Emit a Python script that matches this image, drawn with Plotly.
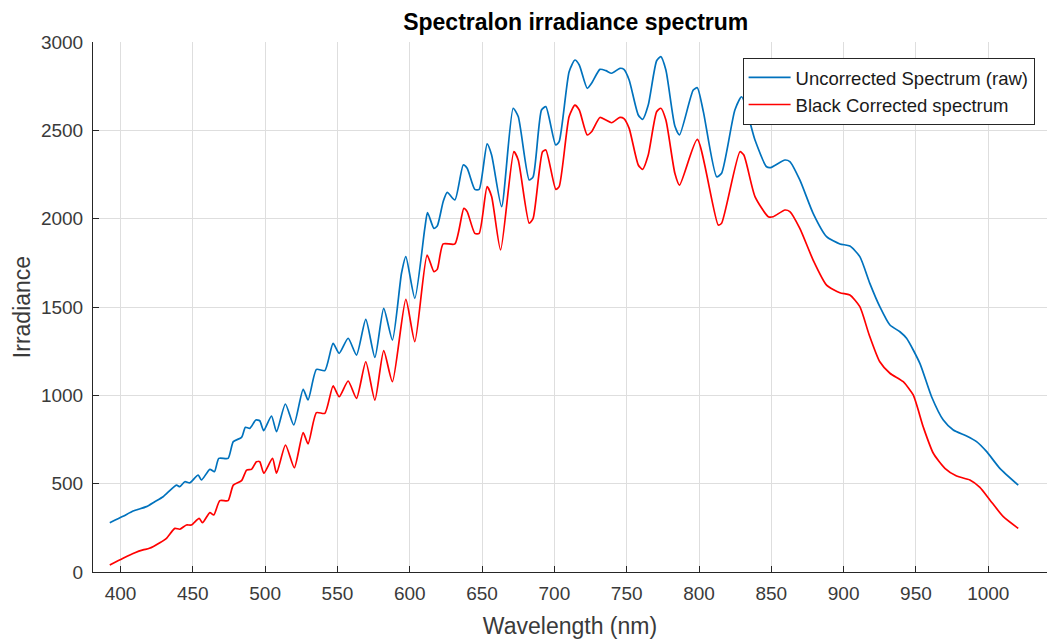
import plotly.graph_objects as go

# Uncorrected spectrum (raw) - wavelength (nm), irradiance
raw_wl = [392.6, 401.8, 408.7, 418.0, 423.7, 429.5, 438.7, 441.0, 444.5, 448.0,
          453.7, 456.0, 461.8, 465.0, 468.0, 474.4, 478.0, 483.7, 486.4, 489.4,
          493.6, 496.3, 499.0, 504.4, 507.9, 514.0, 519.8, 526.3, 529.7, 535.5,
          541.3, 547.0, 551.2, 557.4, 563.2, 569.6, 575.9, 582.0, 588.0, 594.3,
          597.3, 603.5, 610.4, 612.3, 616.7, 619.0, 623.1, 625.9, 631.2, 637.0,
          639.7, 645.0, 648.0, 653.5, 656.6, 663.5, 671.5, 675.0, 682.6, 685.3,
          691.1, 694.1, 700.9, 703.3, 710.2, 714.2, 717.2, 722.7, 725.7, 731.5,
          735.6, 739.6, 745.3, 748.1, 751.7, 758.0, 761.0, 764.9, 770.7, 773.6,
          777.1, 783.3, 786.5, 796.0, 798.8, 803.0, 812.2, 815.6, 824.8, 829.5,
          838.7, 846.7, 849.5, 859.4, 862.8, 869.7, 878.9, 888.2, 897.4, 904.3,
          911.2, 918.1, 925.0, 932.0, 938.9, 943.5, 952.7, 960.8, 968.9, 975.8,
          985.0, 991.9, 998.9, 1008.0, 1020.7]
raw_irr = [279, 315, 345, 370, 398, 426, 492, 483, 511, 505,
           549, 521, 581, 568, 643, 643, 738, 762, 819, 813,
           860, 856, 800, 883, 794, 951, 832, 1034, 974, 1147,
           1140, 1294, 1238, 1323, 1228, 1430, 1215, 1492, 1313, 1691,
           1785, 1549, 1945, 2034, 1945, 1958, 2096, 2149, 2106, 2304,
           2285, 2166, 2166, 2423, 2360, 2068, 2625, 2578, 2219, 2237,
           2615, 2634, 2417, 2436, 2832, 2898, 2870, 2738, 2766, 2845,
           2838, 2823, 2851, 2845, 2785, 2587, 2562, 2643, 2894, 2917,
           2841, 2524, 2474, 2728, 2741, 2606, 2237, 2257, 2615, 2690,
           2445, 2294, 2289, 2332, 2323, 2219, 2030, 1898, 1857, 1845,
           1785, 1634, 1502, 1398, 1360, 1323, 1181, 992, 860, 804,
           770, 738, 681, 587, 492]

# Black corrected spectrum
cor_wl = [392.6, 401.8, 410.0, 415.6, 420.0, 427.2, 431.8, 437.6, 441.0, 445.6,
          449.0, 454.4, 456.7, 461.8, 464.5, 468.7, 474.4, 478.0, 483.7, 487.2,
          490.6, 494.0, 496.3, 499.1, 505.1, 507.9, 514.1, 520.2, 526.3, 529.7,
          535.5, 541.3, 547.0, 551.2, 557.4, 563.2, 569.6, 575.9, 582.0, 588.0,
          597.3, 603.5, 612.0, 616.7, 619.0, 623.1, 631.2, 637.4, 639.7, 645.0,
          648.0, 653.5, 656.6, 662.8, 672.0, 675.0, 682.6, 685.3, 691.8, 694.1,
          701.0, 703.3, 710.2, 714.2, 717.2, 722.7, 725.7, 731.5, 735.6, 739.6,
          745.3, 748.1, 751.7, 758.0, 761.0, 764.9, 770.7, 773.6, 777.1, 783.3,
          786.5, 798.8, 813.3, 815.6, 828.3, 831.0, 838.7, 847.9, 851.3, 859.4,
          862.8, 869.7, 878.9, 888.2, 897.4, 904.3, 911.2, 917.5, 925.0, 932.0,
          941.2, 948.1, 955.0, 962.0, 970.0, 978.1, 987.3, 994.2, 1001.1, 1010.4,
          1020.7]
cor_irr = [40, 78, 109, 125, 134, 166, 191, 247, 242, 266,
           266, 304, 279, 336, 323, 404, 404, 492, 517, 577,
           581, 624, 624, 559, 643, 559, 719, 590, 789, 725,
           902, 898, 1053, 992, 1081, 983, 1190, 973, 1253, 1077,
           1543, 1304, 1794, 1700, 1713, 1857, 1857, 2058, 2040, 1917,
           1917, 2181, 2125, 1823, 2379, 2332, 1974, 2002, 2379, 2389,
           2166, 2181, 2578, 2643, 2615, 2474, 2492, 2573, 2558, 2543,
           2573, 2566, 2511, 2304, 2279, 2360, 2605, 2625, 2558, 2257,
           2190, 2449, 1964, 1974, 2379, 2360, 2125, 2011, 2011, 2049,
           2040, 1945, 1766, 1624, 1581, 1568, 1502, 1346, 1190, 1125,
           1077, 1002, 822, 672, 587, 543, 521, 479, 408, 313,
           247]

x_ticks = [400, 450, 500, 550, 600, 650, 700, 750, 800, 850, 900, 950, 1000]
y_ticks = [0, 500, 1000, 1500, 2000, 2500, 3000]

FONT = "Liberation Sans, Arial, Helvetica, sans-serif"
TXT = "#3a3a3a"

fig = go.Figure()
fig.add_trace(go.Scatter(x=raw_wl, y=raw_irr, mode="lines",
                         name="Uncorrected Spectrum (raw)", legendgroup="a",
                         line=dict(color="#0072BD", width=1.7, shape="spline", smoothing=0.6)))
fig.add_trace(go.Scatter(x=cor_wl, y=cor_irr, mode="lines",
                         name="Black Corrected spectrum", legendgroup="b",
                         line=dict(color="#FF0000", width=1.7, shape="spline", smoothing=0.6)))

fig.update_layout(
    width=1047, height=639,
    margin=dict(l=93, r=0, t=42, b=67),
    paper_bgcolor="white", plot_bgcolor="white",
    font=dict(family=FONT, color=TXT, size=19),
    title=dict(text="<b>Spectralon irradiance spectrum</b>", xref="paper", x=0.506,
               xanchor="center", y=0.965, yanchor="middle",
               font=dict(size=23, color="black")),
    showlegend=True,
    legend=dict(x=0.987, xanchor="right", y=0.970, yanchor="top",
                bgcolor="white", bordercolor="#262626", borderwidth=1,
                font=dict(size=18.5, color="#1a1a1a"), tracegroupgap=0,
                itemwidth=42, traceorder="grouped"),
    xaxis=dict(range=[381, 1040.6], tickvals=x_ticks, ticks="inside", ticklen=6,
               tickcolor="#262626", showline=True, linecolor="#262626", linewidth=1,
               showgrid=True, gridcolor="#dedede", gridwidth=1, zeroline=False,
               tickfont=dict(size=19, color=TXT), ticklabelstandoff=4,
               title=dict(text="Wavelength (nm)", font=dict(size=23, color=TXT), standoff=15)),
    yaxis=dict(range=[0, 3000], tickvals=y_ticks, ticks="inside", ticklen=6,
               tickcolor="#262626", showline=True, linecolor="#262626", linewidth=1,
               showgrid=True, gridcolor="#dedede", gridwidth=1, zeroline=False,
               tickfont=dict(size=19, color=TXT), ticklabelstandoff=5,
               title=dict(text="Irradiance", font=dict(size=23, color=TXT), standoff=3)),
)

fig.write_html("out.html")
